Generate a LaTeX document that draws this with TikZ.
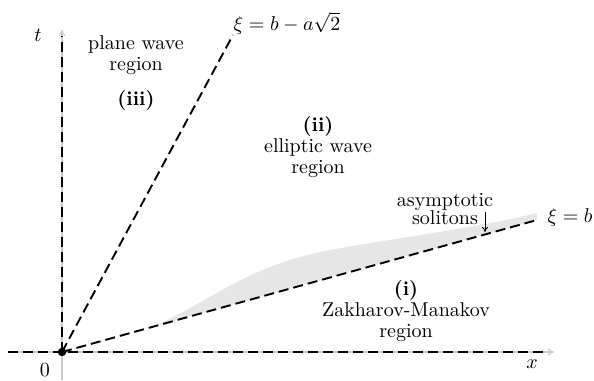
\documentclass[tikz,border=0pt]{standalone}
\usepackage{amsmath}
\usepackage{tikz}
\usetikzlibrary{arrows.meta}
\definecolor{axisgray}{HTML}{CCCCCC}
\definecolor{solgray}{HTML}{E6E6E6}

\begin{document}
\begin{tikzpicture}[
  x=0.5pt, y=0.5pt,
  axis/.style={-{To[length=3pt,width=3.5pt]}, line width=0.6pt, color=axisgray},
  ray/.style={line width=0.95pt, dash pattern=on 5pt off 2.5pt},
  lbl/.style={align=center, font={\fontsize{10}{10.5}\selectfont}},
  dot/.style={circle, fill=black, inner sep=0pt, minimum size=4.2pt},
  pointer/.style={-{To[length=2.5pt,width=3pt]}, thin},
]
  \useasboundingbox (-62,-28) rectangle (532,352);

  \coordinate (O)    at (0,0);
  \coordinate (xl)   at (-54,0);
  \coordinate (xr)   at (482,0);
  \coordinate (xtip) at (492,0);
  \coordinate (tb)   at (0,-28);
  \coordinate (tt)   at (0,316);
  \coordinate (ttip) at (0,322);
  \coordinate (xiA)  at (171,317);
  \coordinate (xiB)  at (475,132);

  % soliton strip
  \fill[solgray] (88,24.45) .. controls (150,50) and (180,85) .. (268,102)
    .. controls (340,115) and (420,125) .. (475,139) -- (xiB) -- cycle;

  % axes and rays
  \draw[axis] (xl) -- (xtip);
  \draw[axis] (tb) -- (ttip);
  \draw[ray] (xl) -- (xr);
  \draw[ray] (O) -- (tt);
  \draw[ray] (O) -- (xiA);
  \draw[ray] (O) -- (xiB);
  \node[dot] (orig) at (O) {};

  \node (tlab) at (-24,317) {$t$};
  \node (xlab) at (470,-12) {$x$};
  \node (zero) at (-17,-18) {$0$};
  \node (xiAlab) at (225,329) {$\xi = b - a\sqrt{2}$};
  \node (xiBlab) at (508,134) {$\xi = b$};

  \node[lbl] (plane) at (74,297) {plane wave\\region};
  \node[lbl] (iii)   at (74,252) {\textbf{(iii)}};
  \node[lbl] (ell)   at (256,205) {\textbf{(ii)}\\elliptic wave\\region};
  \node[lbl] (zm)    at (344,41) {\textbf{(i)}\\Zakharov-Manakov\\region};
  \node[lbl, font={\fontsize{10}{9}\selectfont}] (asym) at (383,143)
    {asymptotic\\solitons};

  \coordinate (sa) at (423,140);
  \coordinate (sb) at (423,120);
  \draw[pointer] (sa) -- (sb);
\end{tikzpicture}
\end{document}
